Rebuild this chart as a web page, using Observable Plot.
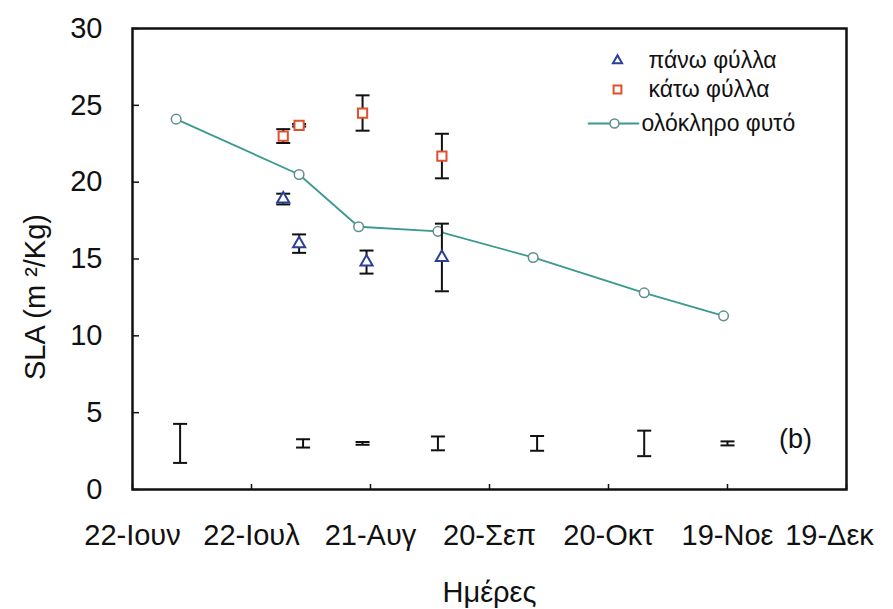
<!DOCTYPE html>
<html>
<head>
<meta charset="utf-8">
<script src="https://cdn.jsdelivr.net/npm/d3@7"></script>
<script src="https://cdn.jsdelivr.net/npm/@observablehq/plot@0.6"></script>
<style>
  html, body { margin: 0; padding: 0; background: #fff; }
  #chart svg { display: block; }
</style>
</head>
<body>
<div id="chart"></div>
<script>
// Axis ticks (every 30 days) and their Greek labels
const tickDates = ["2001-06-22", "2001-07-22", "2001-08-21", "2001-09-20", "2001-10-20", "2001-11-19", "2001-12-19"];
const tickLabels = ["22-Ιουν", "22-Ιουλ", "21-Αυγ", "20-Σεπ", "20-Οκτ", "19-Νοε", "19-Δεκ"];
const yTicks = [0, 5, 10, 15, 20, 25, 30];

// Whole plant SLA (m²/kg)
const wholeDates = ["2001-07-03", "2001-08-03", "2001-08-18", "2001-09-07", "2001-10-01", "2001-10-29", "2001-11-18"];
const wholeSLA = [24.1, 20.5, 17.1, 16.8, 15.1, 12.8, 11.3];

// Upper leaves: mean and error
const upperDates = ["2001-07-30", "2001-08-03", "2001-08-20", "2001-09-08"];
const upperSLA = [18.9, 16.0, 14.8, 15.1];
const upperErr = [0.35, 0.6, 0.75, 2.2];

// Lower leaves: mean and error
const lowerDates = ["2001-07-30", "2001-08-03", "2001-08-19", "2001-09-08"];
const lowerSLA = [23.0, 23.7, 24.5, 21.7];
const lowerErr = [0.45, 0.08, 1.15, 1.45];

// Whole-plant error bars drawn along the bottom, centred at a common level
const barDates = ["2001-07-04", "2001-08-04", "2001-08-19", "2001-09-07", "2001-10-02", "2001-10-29", "2001-11-19"];
const barHalf = [1.27, 0.27, 0.09, 0.45, 0.48, 0.83, 0.13];
const barLevel = 3;

const legendLabels = ["πάνω φύλλα", "κάτω φύλλα", "ολόκληρο φυτό"];
const panelTag = "(b)";
const xTitle = "Ημέρες";
const yTitle = "SLA (m ²/Kg)";

const parse = d3.utcParse("%Y-%m-%d");
const xTicks = tickDates.map(parse);
const labelOf = new Map(xTicks.map((d, i) => [+d, tickLabels[i]]));

const blue = "#2b3f98";
const red = "#e0502c";
const teal = "#3a9a8f";
const tealMarker = "#5f8f8c";

// Horizontal cap used at the ends of error bars
const capSymbol = {
  draw(context, size) {
    const r = Math.sqrt(size / Math.PI);
    context.moveTo(-r, 0);
    context.lineTo(r, 0);
  }
};
// Plain horizontal segment for the legend line sample
const segmentShape = {
  draw(context, length) {
    context.moveTo(0, 0);
    context.lineTo(0, -length);
  }
};

const whole = wholeDates.map((d, i) => ({date: parse(d), sla: wholeSLA[i]}));
const withErr = (dates, vals, errs) => dates.map((d, i) => ({
  date: parse(d), sla: vals[i], lo: vals[i] - errs[i], hi: vals[i] + errs[i]
}));
const upper = withErr(upperDates, upperSLA, upperErr);
const lower = withErr(lowerDates, lowerSLA, lowerErr);
const bars = withErr(barDates, barDates.map(() => barLevel), barHalf);

function errorBars(rows) {
  return [
    Plot.ruleX(rows, {x: "date", y1: "lo", y2: "hi", stroke: "#111", strokeWidth: 2}),
    Plot.dot(rows, {x: "date", y: "lo", symbol: capSymbol, r: 7, stroke: "#111", strokeWidth: 2}),
    Plot.dot(rows, {x: "date", y: "hi", symbol: capSymbol, r: 7, stroke: "#111", strokeWidth: 2})
  ];
}

const chart = Plot.plot({
  width: 893,
  height: 609,
  marginLeft: 132,
  marginRight: 47,
  marginTop: 28,
  marginBottom: 120,
  style: {
    fontFamily: "'Liberation Sans', Arial, sans-serif",
    fontSize: "29px",
    background: "#fff",
    color: "#111"
  },
  x: {type: "utc", domain: [xTicks[0], xTicks[xTicks.length - 1]]},
  y: {domain: [0, 30]},
  marks: [
    // y axis: inward ticks with labels
    Plot.axisY({ticks: yTicks, tickSize: -7, tickPadding: 37, tickFormat: d => String(d), label: null, strokeWidth: 1.5}),
    // x axis: inward ticks only
    Plot.axisX(xTicks, {tickSize: -5, tickFormat: () => "", label: null, strokeWidth: 1.5}),
    // x labels, the last one pulled inside the figure
    Plot.axisX(xTicks.slice(0, -1), {tickSize: 0, tickPadding: 35, tickFormat: d => labelOf.get(+d), label: null}),
    Plot.axisX(xTicks.slice(-1), {tickSize: 0, tickPadding: 35, tickFormat: d => labelOf.get(+d), label: null, dx: -17}),

    // error bars along the bottom
    ...errorBars(bars),

    // whole plant
    Plot.line(whole, {x: "date", y: "sla", stroke: teal, strokeWidth: 1.8}),
    Plot.dot(whole, {x: "date", y: "sla", r: 4.8, fill: "#fff", stroke: tealMarker, strokeWidth: 1.5}),

    // lower leaves
    ...errorBars(lower),
    Plot.dot(lower, {x: "date", y: "sla", symbol: "square", r: 5.2, fill: "#fff", stroke: red, strokeWidth: 2}),

    // upper leaves
    ...errorBars(upper),
    Plot.dot(upper, {x: "date", y: "sla", symbol: "triangle", r: 4.5, fill: "#fff", stroke: blue, strokeWidth: 2}),

    Plot.frame({stroke: "#111", strokeWidth: 2.5}),

    // legend
    Plot.dot([0], {frameAnchor: "top-right", dx: -229, dy: 32, symbol: "triangle", r: 3.4, fill: "#fff", stroke: blue, strokeWidth: 2}),
    Plot.dot([0], {frameAnchor: "top-right", dx: -229, dy: 61, symbol: "square", r: 4.4, fill: "#fff", stroke: red, strokeWidth: 2}),
    Plot.vector([0], {frameAnchor: "top-right", dx: -258, dy: 95, rotate: 90, length: 50, anchor: "start", shape: segmentShape, stroke: teal, strokeWidth: 1.8}),
    Plot.dot([0], {frameAnchor: "top-right", dx: -232, dy: 95, r: 4.5, fill: "#fff", stroke: tealMarker, strokeWidth: 1.5}),
    Plot.text([legendLabels[0]], {frameAnchor: "top-right", text: d => d, dx: -198, dy: 32, textAnchor: "start", lineAnchor: "middle", fontSize: 23}),
    Plot.text([legendLabels[1]], {frameAnchor: "top-right", text: d => d, dx: -198, dy: 61, textAnchor: "start", lineAnchor: "middle", fontSize: 23}),
    Plot.text([legendLabels[2]], {frameAnchor: "top-right", text: d => d, dx: -205, dy: 95, textAnchor: "start", lineAnchor: "middle", fontSize: 23}),

    // panel tag
    Plot.text([panelTag], {frameAnchor: "bottom-right", text: d => d, dx: -51, dy: -50, textAnchor: "middle", lineAnchor: "middle", fontSize: 27}),

    // axis titles
    Plot.text([xTitle], {frameAnchor: "bottom", text: d => d, dy: 103, textAnchor: "middle", lineAnchor: "middle"}),
    Plot.text([yTitle], {frameAnchor: "left", text: d => d, dx: -97, dy: 38, rotate: -90, textAnchor: "middle", lineAnchor: "middle"})
  ]
});

document.getElementById("chart").append(chart);
</script>
</body>
</html>
